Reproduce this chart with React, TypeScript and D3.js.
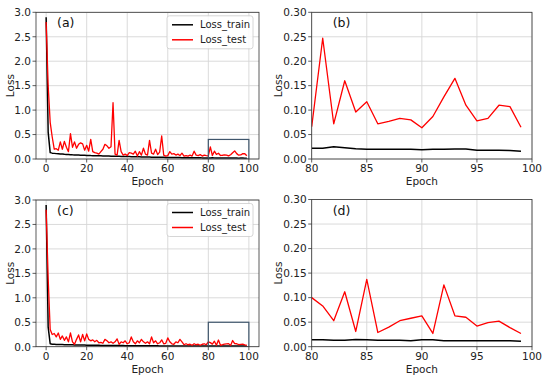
import React from "react";
import * as d3 from "d3";

// epochs 0..99
const epochs = d3.range(100);

const trainA = [
  2.9, 0.55, 0.13, 0.12, 0.115, 0.11, 0.105, 0.1, 0.1, 0.095,
  0.092, 0.09, 0.088, 0.085, 0.083, 0.081, 0.08, 0.078, 0.076, 0.075,
  0.073, 0.072, 0.07, 0.069, 0.068, 0.066, 0.065, 0.064, 0.063, 0.062,
  0.06, 0.059, 0.058, 0.057, 0.056, 0.055, 0.054, 0.053, 0.052, 0.051,
  0.05, 0.049, 0.048, 0.047, 0.046, 0.045, 0.044, 0.043, 0.042, 0.041,
  0.04, 0.039, 0.038, 0.038, 0.037, 0.036, 0.035, 0.035, 0.034, 0.033,
  0.033, 0.032, 0.031, 0.031, 0.03, 0.03, 0.029, 0.028, 0.028, 0.027,
  0.027, 0.026, 0.026, 0.025, 0.025, 0.024, 0.024, 0.023, 0.023, 0.022,
  0.022, 0.022, 0.025, 0.023, 0.021, 0.02, 0.02, 0.02, 0.02, 0.02,
  0.019, 0.02, 0.02, 0.0205, 0.0205, 0.0177, 0.018, 0.018, 0.0172, 0.016,
];

const testA = [
  2.8, 1.5, 0.75, 0.45, 0.2, 0.21, 0.18, 0.35, 0.2, 0.36,
  0.24, 0.15, 0.52, 0.24, 0.35, 0.22, 0.3, 0.33, 0.31, 0.18,
  0.28, 0.16, 0.4, 0.15, 0.13, 0.12, 0.1, 0.15, 0.2, 0.3,
  0.27, 0.22, 0.25, 1.15, 0.1, 0.08, 0.38, 0.15, 0.08, 0.1,
  0.07, 0.13, 0.12, 0.1, 0.16, 0.06, 0.15, 0.08, 0.22, 0.1,
  0.08, 0.38, 0.12, 0.1, 0.2, 0.09, 0.14, 0.47, 0.08, 0.06,
  0.07, 0.15, 0.1, 0.11, 0.08, 0.1, 0.07, 0.12, 0.06, 0.07,
  0.06, 0.08, 0.06, 0.16, 0.08, 0.07, 0.09, 0.06, 0.08, 0.07,
  0.066, 0.247, 0.072, 0.16, 0.096, 0.117, 0.072, 0.077, 0.083, 0.08,
  0.064, 0.087, 0.127, 0.165, 0.11, 0.078, 0.083, 0.11, 0.107, 0.065,
];

const trainC = [
  2.9, 0.4, 0.06, 0.05, 0.048, 0.046, 0.045, 0.044, 0.043, 0.042,
  0.041, 0.04, 0.039, 0.038, 0.037, 0.036, 0.035, 0.034, 0.034, 0.033,
  0.032, 0.031, 0.031, 0.03, 0.029, 0.029, 0.028, 0.027, 0.027, 0.026,
  0.026, 0.025, 0.025, 0.024, 0.024, 0.023, 0.023, 0.022, 0.022, 0.021,
  0.021, 0.021, 0.02, 0.02, 0.02, 0.019, 0.019, 0.019, 0.018, 0.018,
  0.018, 0.018, 0.017, 0.017, 0.017, 0.017, 0.016, 0.016, 0.016, 0.016,
  0.016, 0.016, 0.015, 0.015, 0.015, 0.015, 0.015, 0.015, 0.015, 0.015,
  0.015, 0.015, 0.015, 0.014, 0.014, 0.014, 0.014, 0.014, 0.014, 0.014,
  0.014, 0.014, 0.013, 0.013, 0.0145, 0.014, 0.013, 0.013, 0.013, 0.012,
  0.014, 0.014, 0.012, 0.012, 0.012, 0.012, 0.012, 0.012, 0.012, 0.011,
];

const testC = [
  2.8, 1.4, 0.35, 0.25, 0.27, 0.2, 0.28, 0.15, 0.22, 0.13,
  0.2, 0.1, 0.28, 0.1, 0.05, 0.15, 0.24, 0.1, 0.25, 0.12,
  0.26, 0.15, 0.12, 0.14, 0.1, 0.13, 0.08, 0.09, 0.07, 0.15,
  0.12, 0.08, 0.1, 0.07, 0.1, 0.16, 0.05, 0.1, 0.08, 0.12,
  0.06, 0.08, 0.2, 0.1, 0.06, 0.12, 0.08, 0.15, 0.1, 0.07,
  0.1, 0.06, 0.2, 0.08, 0.12, 0.06, 0.08, 0.14, 0.06, 0.07,
  0.18, 0.1, 0.06, 0.05, 0.1, 0.08, 0.15, 0.1, 0.04, 0.06,
  0.04, 0.05, 0.03, 0.06, 0.04, 0.05, 0.03, 0.05, 0.06, 0.04,
  0.1, 0.083, 0.053, 0.112, 0.031, 0.137, 0.029, 0.04, 0.053, 0.058,
  0.063, 0.027, 0.126, 0.063, 0.06, 0.042, 0.049, 0.052, 0.039, 0.027,
];

const fullXTicks = [0, 20, 40, 60, 80, 100];
const zoomXTicks = [80, 85, 90, 95, 100];
const fullYTicks = [0, 0.5, 1.0, 1.5, 2.0, 2.5, 3.0];
const zoomYTicks = [0, 0.05, 0.1, 0.15, 0.2, 0.25, 0.3];
const seriesNames = ["Loss_train", "Loss_test"];
const seriesColors = ["black", "red"];

const FONT = "DejaVu Sans, sans-serif";

type PanelProps = {
  id: string;
  left: number;
  right: number;
  top: number;
  bottom: number;
  xDomain: [number, number];
  xTicks: number[];
  yDomain: [number, number];
  yTicks: number[];
  yFmt: string;
  from: number;
  train: number[];
  test: number[];
  label: string;
  legend?: boolean;
  inset?: number;
};

function Panel(p: PanelProps) {
  const x = d3.scaleLinear().domain(p.xDomain).range([p.left, p.right]);
  const y = d3.scaleLinear().domain(p.yDomain).range([p.bottom, p.top]);
  const fmt = d3.format(p.yFmt);
  const idx = epochs.filter((e) => e >= p.from);
  const line = (vals: number[]) =>
    d3
      .line<number>()
      .x((e) => x(e))
      .y((e) => y(vals[e]))(idx) || "";

  const midX = (p.left + p.right) / 2;
  const midY = (p.top + p.bottom) / 2;
  const clip = "clip-" + p.id;

  return (
    <g>
      <defs>
        <clipPath id={clip}>
          <rect x={p.left} y={p.top} width={p.right - p.left} height={p.bottom - p.top} />
        </clipPath>
      </defs>
      {/* grid */}
      {p.xTicks.map((t) => (
        <line key={"gx" + t} x1={x(t)} x2={x(t)} y1={p.top} y2={p.bottom} stroke="#d6d6d6" strokeWidth={0.9} />
      ))}
      {p.yTicks.map((t) => (
        <line key={"gy" + t} x1={p.left} x2={p.right} y1={y(t)} y2={y(t)} stroke="#d6d6d6" strokeWidth={0.9} />
      ))}

      <g clipPath={`url(#${clip})`}>
        <path d={line(p.train)} fill="none" stroke={seriesColors[0]} strokeWidth={1.5} strokeLinejoin="round" />
        <path d={line(p.test)} fill="none" stroke={seriesColors[1]} strokeWidth={1.3} strokeLinejoin="round" />
        {p.inset !== undefined && (
          <rect
            x={x(80)}
            y={y(p.inset)}
            width={x(100) - x(80)}
            height={y(0) - y(p.inset)}
            fill="none"
            stroke="#3e556b"
            strokeWidth={1.2}
          />
        )}
      </g>

      {/* frame */}
      <rect x={p.left} y={p.top} width={p.right - p.left} height={p.bottom - p.top} fill="none" stroke="#333" strokeWidth={0.8} />

      {/* ticks */}
      {p.xTicks.map((t) => (
        <g key={"tx" + t}>
          <line x1={x(t)} x2={x(t)} y1={p.bottom} y2={p.bottom + 3.5} stroke="#333" strokeWidth={0.8} />
          <text x={x(t)} y={p.bottom + 13} textAnchor="middle" fontSize={10.5} fontFamily={FONT} fill="#222">
            {t}
          </text>
        </g>
      ))}
      {p.yTicks.map((t) => (
        <g key={"ty" + t}>
          <line x1={p.left - 3.5} x2={p.left} y1={y(t)} y2={y(t)} stroke="#333" strokeWidth={0.8} />
          <text x={p.left - 5} y={y(t) + 3.8} textAnchor="end" fontSize={10.5} fontFamily={FONT} fill="#222">
            {fmt(t)}
          </text>
        </g>
      ))}

      <text x={midX} y={p.bottom + 26} textAnchor="middle" fontSize={10.5} fontFamily={FONT} fill="#222">
        Epoch
      </text>
      <text
        transform={`translate(${p.left - (p.yFmt === ".2f" ? 30 : 22)},${midY}) rotate(-90)`}
        textAnchor="middle"
        fontSize={10.5}
        fontFamily={FONT}
        fill="#222"
      >
        Loss
      </text>
      <text x={p.left + 21} y={p.top + 15} fontSize={12.5} fontFamily={FONT} fill="#111">
        {p.label}
      </text>

      {p.legend && (
        <g>
          <rect
            x={p.right - 92}
            y={p.top + 3.5}
            width={86}
            height={33}
            rx={2.5}
            fill="white"
            fillOpacity={0.85}
            stroke="#cccccc"
            strokeWidth={0.8}
          />
          {seriesNames.map((n, i) => (
            <g key={n}>
              <line
                x1={p.right - 87}
                x2={p.right - 66}
                y1={p.top + 12.5 + i * 15}
                y2={p.top + 12.5 + i * 15}
                stroke={seriesColors[i]}
                strokeWidth={1.5}
              />
              <text x={p.right - 59} y={p.top + 16 + i * 15} fontSize={10} fontFamily={FONT} fill="#222">
                {n}
              </text>
            </g>
          ))}
        </g>
      )}
    </g>
  );
}

export default function App() {
  return (
    <svg
      width={550}
      height={383}
      style={{ position: "absolute", left: 0, top: 0, background: "white" }}
    >
      <Panel
        id="a"
        left={36}
        right={259}
        top={12.3}
        bottom={159}
        xDomain={[-5, 105]}
        xTicks={fullXTicks}
        yDomain={[0, 3]}
        yTicks={fullYTicks}
        yFmt=".1f"
        from={0}
        train={trainA}
        test={testA}
        label="(a)"
        legend
        inset={0.4}
      />
      <Panel
        id="b"
        left={311.7}
        right={532}
        top={12.3}
        bottom={159}
        xDomain={[80, 100]}
        xTicks={zoomXTicks}
        yDomain={[0, 0.3]}
        yTicks={zoomYTicks}
        yFmt=".2f"
        from={80}
        train={trainA}
        test={testA}
        label="(b)"
      />
      <Panel
        id="c"
        left={36}
        right={259}
        top={200}
        bottom={346.7}
        xDomain={[-5, 105]}
        xTicks={fullXTicks}
        yDomain={[0, 3]}
        yTicks={fullYTicks}
        yFmt=".1f"
        from={0}
        train={trainC}
        test={testC}
        label="(c)"
        legend
        inset={0.5}
      />
      <Panel
        id="d"
        left={311.7}
        right={532}
        top={199.5}
        bottom={346.7}
        xDomain={[80, 100]}
        xTicks={zoomXTicks}
        yDomain={[0, 0.3]}
        yTicks={zoomYTicks}
        yFmt=".2f"
        from={80}
        train={trainC}
        test={testC}
        label="(d)"
      />
    </svg>
  );
}
